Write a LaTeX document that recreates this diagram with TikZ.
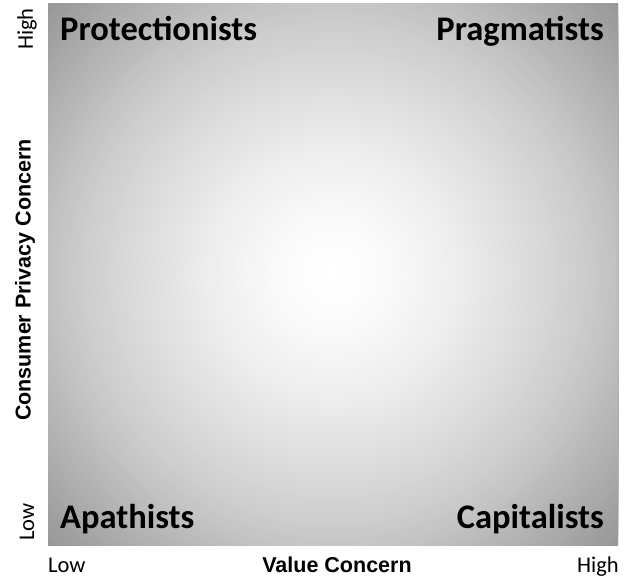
\documentclass[tikz,border=0pt]{standalone}
\usepackage{fontspec}
\setmainfont{Carlito}
\newfontfamily\arial{Liberation Sans}
\usetikzlibrary{calc}

\tikzset{
  group/.style={font=\fontsize{34.5}{34.5}\selectfont\bfseries, inner sep=0pt},
  level/.style={font=\fontsize{22.5}{22.5}\selectfont, inner sep=0pt},
  axis/.style={font=\arial\fontsize{21.5}{21.5}\selectfont\bfseries, inner sep=0pt}
}

\begin{document}
\begin{tikzpicture}[x=1pt,y=1pt]
        \useasboundingbox(0,0)rectangle(631,578);
        % 背景の四角（中心から外へ灰色になる）
        \coordinate(SW)at(48,33);
        \coordinate(NE)at(618,574);
        \coordinate(C)at($(SW)!0.5!(NE)$);
        \begin{scope}
          \clip(SW)rectangle(NE);
          \foreach \r in {396,392,...,4}{
            \pgfmathsetmacro\g{\r<270 ? 1-0.22*(\r/270)^1.5 : 0.78-0.0015*(\r-270)}
            \definecolor{ring}{gray}{\g}
            \fill[ring](C)circle(\r);
          }
        \end{scope}
        % 四つのグループ
        \node[group,anchor=base west](prot)at(60,537){Protectionists};
        \node[group,anchor=base east](prag)at(604,537){Pragmatists};
        \node[group,anchor=base west](apat)at(60,50){Apathists};
        \node[group,anchor=base east](capi)at(604,50){Capitalists};
        % 縦軸
        \node[level,rotate=90](yhigh)at(27,549){High};
        \node[level,rotate=90](ylow)at(27,56){Low};
        \node[axis,rotate=90](yaxis)at(25,298){Consumer Privacy Concern};
        % 横軸
        \node[level,anchor=base west](xlow)at(48,6){Low};
        \node[axis,anchor=base](xaxis)at(337,6){Value Concern};
        \node[level,anchor=base east](xhigh)at(619,6){High};
\end{tikzpicture}
\end{document}
